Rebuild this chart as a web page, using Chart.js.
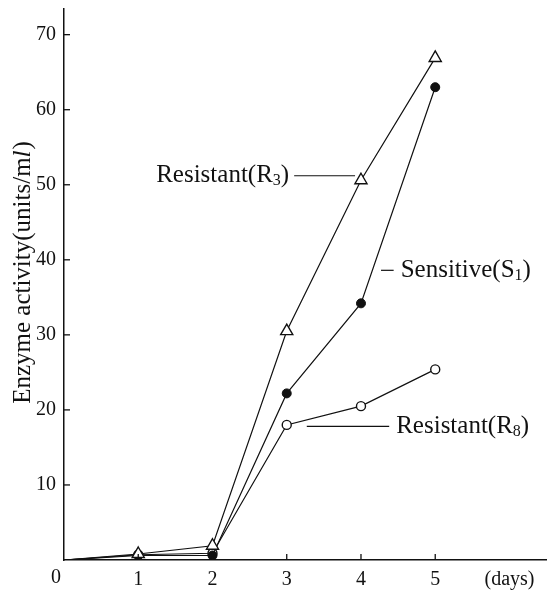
<!DOCTYPE html>
<html>
<head>
<meta charset="utf-8">
<script src="https://cdn.jsdelivr.net/npm/chart.js@4.4.1/dist/chart.umd.min.js"></script>
<style>
  html, body { margin: 0; padding: 0; background: #fff; }
  #wrap { width: 555px; height: 593px; }
</style>
</head>
<body>
<div id="wrap"><canvas id="chart"></canvas></div>
<script>
// days of culture
const days = [0, 1, 2, 3, 4, 5];
// enzyme activity (units/ml)
const resistantR3 = [0, 0.8, 1.9, 30.5, 50.6, 66.9];
const sensitiveS1 = [0, 0.6, 0.6, 22.2, 34.2, 63.0];
const resistantR8 = [0, 0.7, 0.9, 18.0, 20.5, 25.4];
const yTicks = [10, 20, 30, 40, 50, 60, 70];
const xTicks = [1, 2, 3, 4, 5];

const serif = 'Liberation Serif';
Chart.defaults.font.family = serif;
Chart.defaults.color = '#111';

function pts(vals) {
  return days.map((d, i) => ({ x: d, y: vals[i] }));
}

// labels with leader lines, placed in data units
const notes = [
  { name: 'Resistant(R', sub: '3', line: [3.1, 3.92, 51.2], side: 'left' },
  { name: 'Sensitive(S', sub: '1', line: [4.27, 4.44, 38.6], side: 'right' },
  { name: 'Resistant(R', sub: '8', line: [3.27, 4.38, 17.8], side: 'right' }
];

function drawLabel(ctx, n, x, y, side) {
  const big = '25px ' + serif, small = '16px ' + serif;
  ctx.font = big;
  const w1 = ctx.measureText(n.name).width;
  ctx.font = small;
  const w2 = ctx.measureText(n.sub).width;
  ctx.font = big;
  const w3 = ctx.measureText(')').width;
  const total = w1 + w2 + w3;
  let x0 = side === 'left' ? x - total : x;
  ctx.textBaseline = 'middle';
  ctx.textAlign = 'left';
  ctx.fillText(n.name, x0, y);
  ctx.font = small;
  ctx.fillText(n.sub, x0 + w1, y + 5);
  ctx.font = big;
  ctx.fillText(')', x0 + w1 + w2, y);
}

const extras = {
  id: 'extras',
  afterDraw(chart) {
    const ctx = chart.ctx;
    const xs = chart.scales.x, ys = chart.scales.y;
    const left = chart.chartArea.left, bottom = chart.chartArea.bottom;
    ctx.save();
    ctx.strokeStyle = '#111';
    ctx.fillStyle = '#111';
    ctx.lineWidth = 1.3;
    // inward tick marks
    yTicks.forEach(v => {
      const py = ys.getPixelForValue(v);
      ctx.beginPath(); ctx.moveTo(left, py); ctx.lineTo(left + 6, py); ctx.stroke();
    });
    xTicks.forEach(v => {
      const px = xs.getPixelForValue(v);
      ctx.beginPath(); ctx.moveTo(px, bottom); ctx.lineTo(px, bottom - 6); ctx.stroke();
    });
    // shared origin label
    ctx.font = '20px ' + serif;
    ctx.textAlign = 'center';
    ctx.textBaseline = 'middle';
    ctx.fillText('0', left - 8, bottom + 18);
    // axis title with italic l
    ctx.save();
    ctx.translate(23, 273);
    ctx.rotate(-Math.PI / 2);
    const t1 = 'Enzyme activity(units/m', t2 = 'l', t3 = ')';
    const f = '25px ' + serif, fi = 'italic 25px ' + serif;
    ctx.font = f; const a = ctx.measureText(t1).width;
    ctx.font = fi; const b = ctx.measureText(t2).width;
    ctx.font = f; const c = ctx.measureText(t3).width;
    let x0 = -(a + b + c) / 2;
    ctx.textAlign = 'left';
    ctx.textBaseline = 'middle';
    ctx.font = f; ctx.fillText(t1, x0, 0);
    ctx.font = fi; ctx.fillText(t2, x0 + a, 0);
    ctx.font = f; ctx.fillText(t3, x0 + a + b + 1, 0);
    ctx.restore();
    // annotations
    ctx.lineWidth = 1.2;
    notes.forEach(n => {
      const xa = xs.getPixelForValue(n.line[0]);
      const xb = xs.getPixelForValue(n.line[1]);
      const py = ys.getPixelForValue(n.line[2]);
      ctx.beginPath(); ctx.moveTo(xa, py); ctx.lineTo(xb, py); ctx.stroke();
      if (n.side === 'left') drawLabel(ctx, n, xa - 5, py, 'left');
      else drawLabel(ctx, n, xb + 7, py, 'right');
    });
    ctx.restore();
  }
};

new Chart(document.getElementById('chart'), {
  type: 'scatter',
  data: {
    datasets: [
      {
        label: 'Resistant(R3)',
        data: pts(resistantR3),
        showLine: true,
        borderColor: '#111',
        borderWidth: 1.2,
        pointStyle: 'triangle',
        pointRadius: [0, 7, 7, 7, 7, 7],
        pointBackgroundColor: '#fff',
        pointBorderColor: '#111',
        pointBorderWidth: 1.4
      },
      {
        label: 'Sensitive(S1)',
        data: pts(sensitiveS1),
        showLine: true,
        borderColor: '#111',
        borderWidth: 1.2,
        pointStyle: 'circle',
        pointRadius: [0, 4.5, 4.5, 4.5, 4.5, 4.5],
        pointBackgroundColor: '#111',
        pointBorderColor: '#111',
        pointBorderWidth: 1
      },
      {
        label: 'Resistant(R8)',
        data: pts(resistantR8),
        showLine: true,
        borderColor: '#111',
        borderWidth: 1.2,
        pointStyle: 'circle',
        pointRadius: [0, 4.5, 4.5, 4.5, 4.5, 4.5],
        pointBackgroundColor: '#fff',
        pointBorderColor: '#111',
        pointBorderWidth: 1.4
      }
    ]
  },
  options: {
    responsive: true,
    maintainAspectRatio: false,
    animation: false,
    layout: { padding: { top: 8, right: 8, left: 0, bottom: 0 } },
    plugins: { legend: { display: false }, tooltip: { enabled: false } },
    scales: {
      x: {
        type: 'linear',
        min: 0,
        max: 6.5,
        grid: { drawOnChartArea: false, drawTicks: false },
        border: { color: '#111', width: 1.5 },
        afterFit: s => { s.height = 33; s.paddingLeft = 0; s.paddingRight = 0; },
        ticks: {
          stepSize: 1,
          includeBounds: false,
          padding: 8,
          font: { size: 20 },
          callback: v => v === 0 ? '' : (v === 6 ? '(days)' : String(v))
        }
      },
      y: {
        min: 0,
        max: 73.5,
        grid: { drawOnChartArea: false, drawTicks: false },
        border: { color: '#111', width: 1.5 },
        afterFit: s => { s.width = 64; s.paddingTop = 0; s.paddingBottom = 0; },
        ticks: {
          stepSize: 10,
          includeBounds: false,
          padding: 8,
          font: { size: 20 },
          callback: v => v === 0 ? '' : String(v)
        }
      }
    }
  },
  plugins: [extras]
});
</script>
</body>
</html>
